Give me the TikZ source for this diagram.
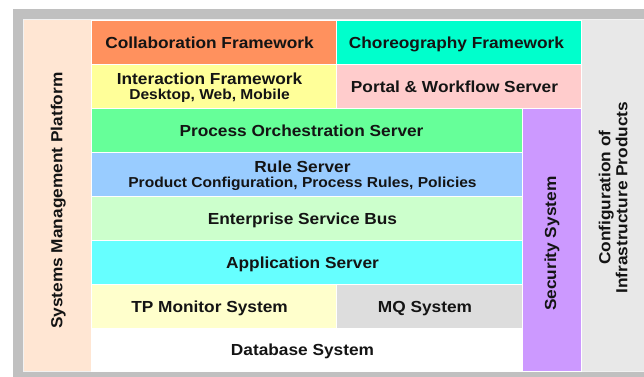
\documentclass[tikz,border=0pt]{standalone}
\usepackage{fontspec}
\setmainfont{Liberation Sans}[FakeStretch=1.08]
\definecolor{framegray}{HTML}{C0C0C0}
\definecolor{bggray}{HTML}{E8E8E8}
\definecolor{edgegray}{HTML}{F2F2F2}
\definecolor{peach}{HTML}{FFE6D3}
\definecolor{orangeA}{HTML}{FF915E}
\definecolor{aquaA}{HTML}{00FFCC}
\definecolor{yellowA}{HTML}{FFFF99}
\definecolor{pinkA}{HTML}{FFCCCC}
\definecolor{greenA}{HTML}{66FF99}
\definecolor{blueA}{HTML}{99CCFF}
\definecolor{greenB}{HTML}{CCFFCC}
\definecolor{cyanA}{HTML}{66FFFF}
\definecolor{yellowB}{HTML}{FFFFCC}
\definecolor{grayA}{HTML}{DDDDDD}
\definecolor{purpleA}{HTML}{CC99FF}
\definecolor{txt}{HTML}{141414}
\newcommand\mycell[6]{\node[cellbox, fill=#6, minimum width=#3-#1, minimum height=#4-#2] (#5) at (#1,#2) {};}
\begin{document}
\begin{tikzpicture}[x=1pt,y=-1pt,
  cellbox/.style={draw=white, line width=1pt, anchor=north west, inner sep=0pt, outer sep=0pt},
  lab/.style={font=\bfseries\fontsize{16}{15}\selectfont, text=txt, align=center, inner sep=0pt},
  lab1/.style={lab, text height=12.5pt, text depth=3.1pt},
  hl/.style={yshift=-1.5pt}]
\useasboundingbox (0,0) rectangle (644,376);
\fill[framegray] (13,9) rectangle (650,380);
\filldraw[fill=bggray, draw=edgegray, line width=1pt] (23.5,19.5) rectangle (650,371.5);
% left column
\fill[peach] (24,20) rectangle (91,371);
\node[inner sep=0pt, minimum width=67, minimum height=351, anchor=north west] (smp) at (24,20) {};
% cells
\mycell{91}{20}{336}{64}{collab}{orangeA}
\mycell{336}{20}{581}{64}{choreo}{aquaA}
\mycell{91}{64}{336}{108}{inter}{yellowA}
\mycell{336}{64}{581}{108}{portal}{pinkA}
\mycell{91}{108}{522}{152}{proc}{greenA}
\mycell{91}{152}{522}{196}{rule}{blueA}
\mycell{91}{196}{522}{240}{esb}{greenB}
\mycell{91}{240}{522}{284}{app}{cyanA}
\mycell{91}{284}{336}{328}{tp}{yellowB}
\mycell{336}{284}{522}{328}{mq}{grayA}
\mycell{91}{328}{522}{371.5}{db}{white}
\mycell{522}{108}{581}{371.5}{sec}{purpleA}
\node[inner sep=0pt, minimum width=62, minimum height=351, anchor=north west] (conf) at (582,20) {};
% labels
\node[lab1, hl] (collabT) at ([xshift=-4pt]collab.center) {Collaboration Framework};
\node[lab1, hl] (choreoT) at ([xshift=-2pt]choreo.center) {Choreography Framework};
\node[lab, hl] (interT) at ([xshift=-4pt]inter.center) {Interaction Framework\\{\fontsize{14.4}{15}\selectfont Desktop, Web, Mobile}};
\node[lab1, hl] (portalT) at ([xshift=-4pt]portal.center) {Portal \& Workflow Server};
\node[lab1, hl] (procT) at ([xshift=-5pt]proc.center) {Process Orchestration Server};
\node[lab, hl] (ruleT) at ([xshift=-4pt]rule.center) {Rule Server\\{\fontsize{14.4}{15}\selectfont Product Configuration, Process Rules, Policies}};
\node[lab1, hl] (esbT) at ([xshift=-4pt]esb.center) {Enterprise Service Bus};
\node[lab1, hl] (appT) at ([xshift=-4pt]app.center) {Application Server};
\node[lab1, hl] (tpT) at ([xshift=-4pt]tp.center) {TP Monitor System};
\node[lab1, hl] (mqT) at ([xshift=-4pt]mq.center) {MQ System};
\node[lab1, hl] (dbT) at ([xshift=-4pt]db.center) {Database System};
\node[lab1, rotate=90] (smpT) at ([yshift=-5pt]smp.center) {Systems Management Platform};
\node[lab1, rotate=90] (secT) at ([yshift=-4pt]sec.center) {Security System};
\node[lab, rotate=90, font=\bfseries\fontsize{16}{17}\selectfont] (confT) at ([yshift=-2pt]conf.center) {Configuration of\\Infrastructure Products};
\end{tikzpicture}
\end{document}
